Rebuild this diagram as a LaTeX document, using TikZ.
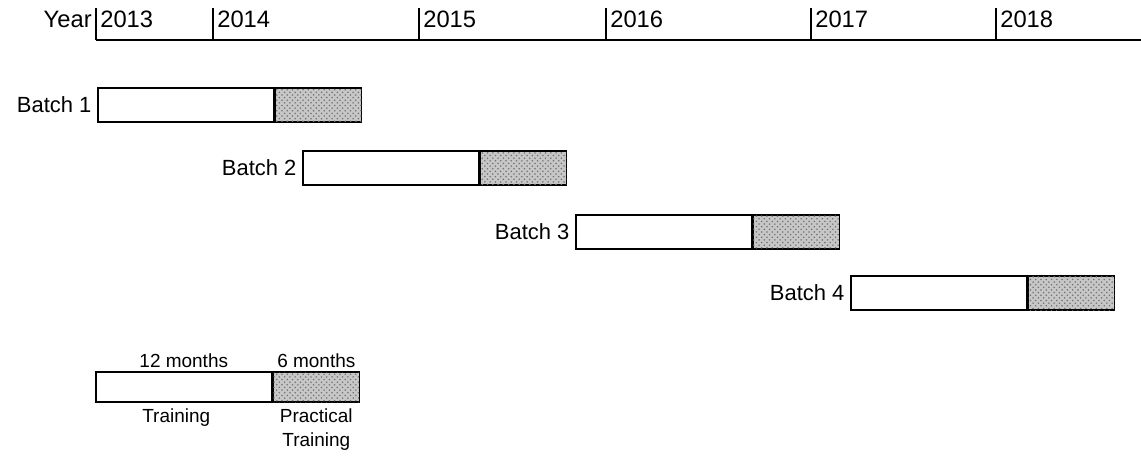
\documentclass[tikz,border=0pt]{standalone}
\usepackage{fontspec}
\setmainfont{Liberation Sans}
\usepackage{tikz}
\usetikzlibrary{positioning,patterns}

\begin{document}
\begin{tikzpicture}[
  x=0.02cm, y=-0.02cm,
  yearlbl/.style={anchor=base west, inner sep=0pt, font=\fontsize{13.5}{15}\selectfont},
  batchlbl/.style={inner sep=2pt, font=\fontsize{12.5}{15}\selectfont},
  legendlbl/.style={inner sep=1pt, font=\fontsize{10.8}{13}\selectfont, align=center},
  train/.style={draw, line width=0.9pt, minimum width=3.52cm, minimum height=0.68cm, inner sep=0pt, anchor=west, fill=white},
  practical/.style={train, minimum width=1.72cm, fill=black!22, postaction={pattern=crosshatch dots, pattern color=black!55}}
]
\useasboundingbox (0,0) rectangle (1141,456);

% time axis
\coordinate (axisstart) at (96,40);
\coordinate (axisend) at (1141,40);
\draw[line width=0.8pt] (axisstart) -- (axisend);
\node[yearlbl, anchor=base east] (yearname) at (92,28) {Year};
\foreach \yr/\xx in {2013/96,2014/213,2015/419,2016/606,2017/811,2018/996}{
  \coordinate (tick\yr) at (\xx,40);
  \draw[line width=0.8pt] (tick\yr) -- ++(0,-32);
  \node[yearlbl] (yr\yr) at (\xx+4,28) {\yr};
}

% batches
\node[train] (b1train) at (97,105) {};
\node[practical, right=0pt of b1train] (b1prac) {};
\node[batchlbl, left=1pt of b1train] (b1lbl) {Batch 1};

\node[train] (b2train) at (302,168) {};
\node[practical, right=0pt of b2train] (b2prac) {};
\node[batchlbl, left=1pt of b2train] (b2lbl) {Batch 2};

\node[train] (b3train) at (575,232) {};
\node[practical, right=0pt of b3train] (b3prac) {};
\node[batchlbl, left=1pt of b3train] (b3lbl) {Batch 3};

\node[train] (b4train) at (850,293) {};
\node[practical, right=0pt of b4train] (b4prac) {};
\node[batchlbl, left=1pt of b4train] (b4lbl) {Batch 4};

% legend
\node[train, minimum height=0.6cm] (lgtrain) at (95,387) {};
\node[practical, minimum height=0.6cm, right=0pt of lgtrain] (lgprac) {};
\node[legendlbl, above=1pt of lgtrain] (lgtrainlen) {12 months};
\node[legendlbl, above=1pt of lgprac] (lgpraclen) {6 months};
\node[legendlbl, below=2pt of lgtrain, xshift=-0.15cm] (lgtrainname) {Training};
\node[legendlbl, below=2pt of lgprac, anchor=north] (lgpracname) {Practical\\[1pt]Training};
\end{tikzpicture}
\end{document}
